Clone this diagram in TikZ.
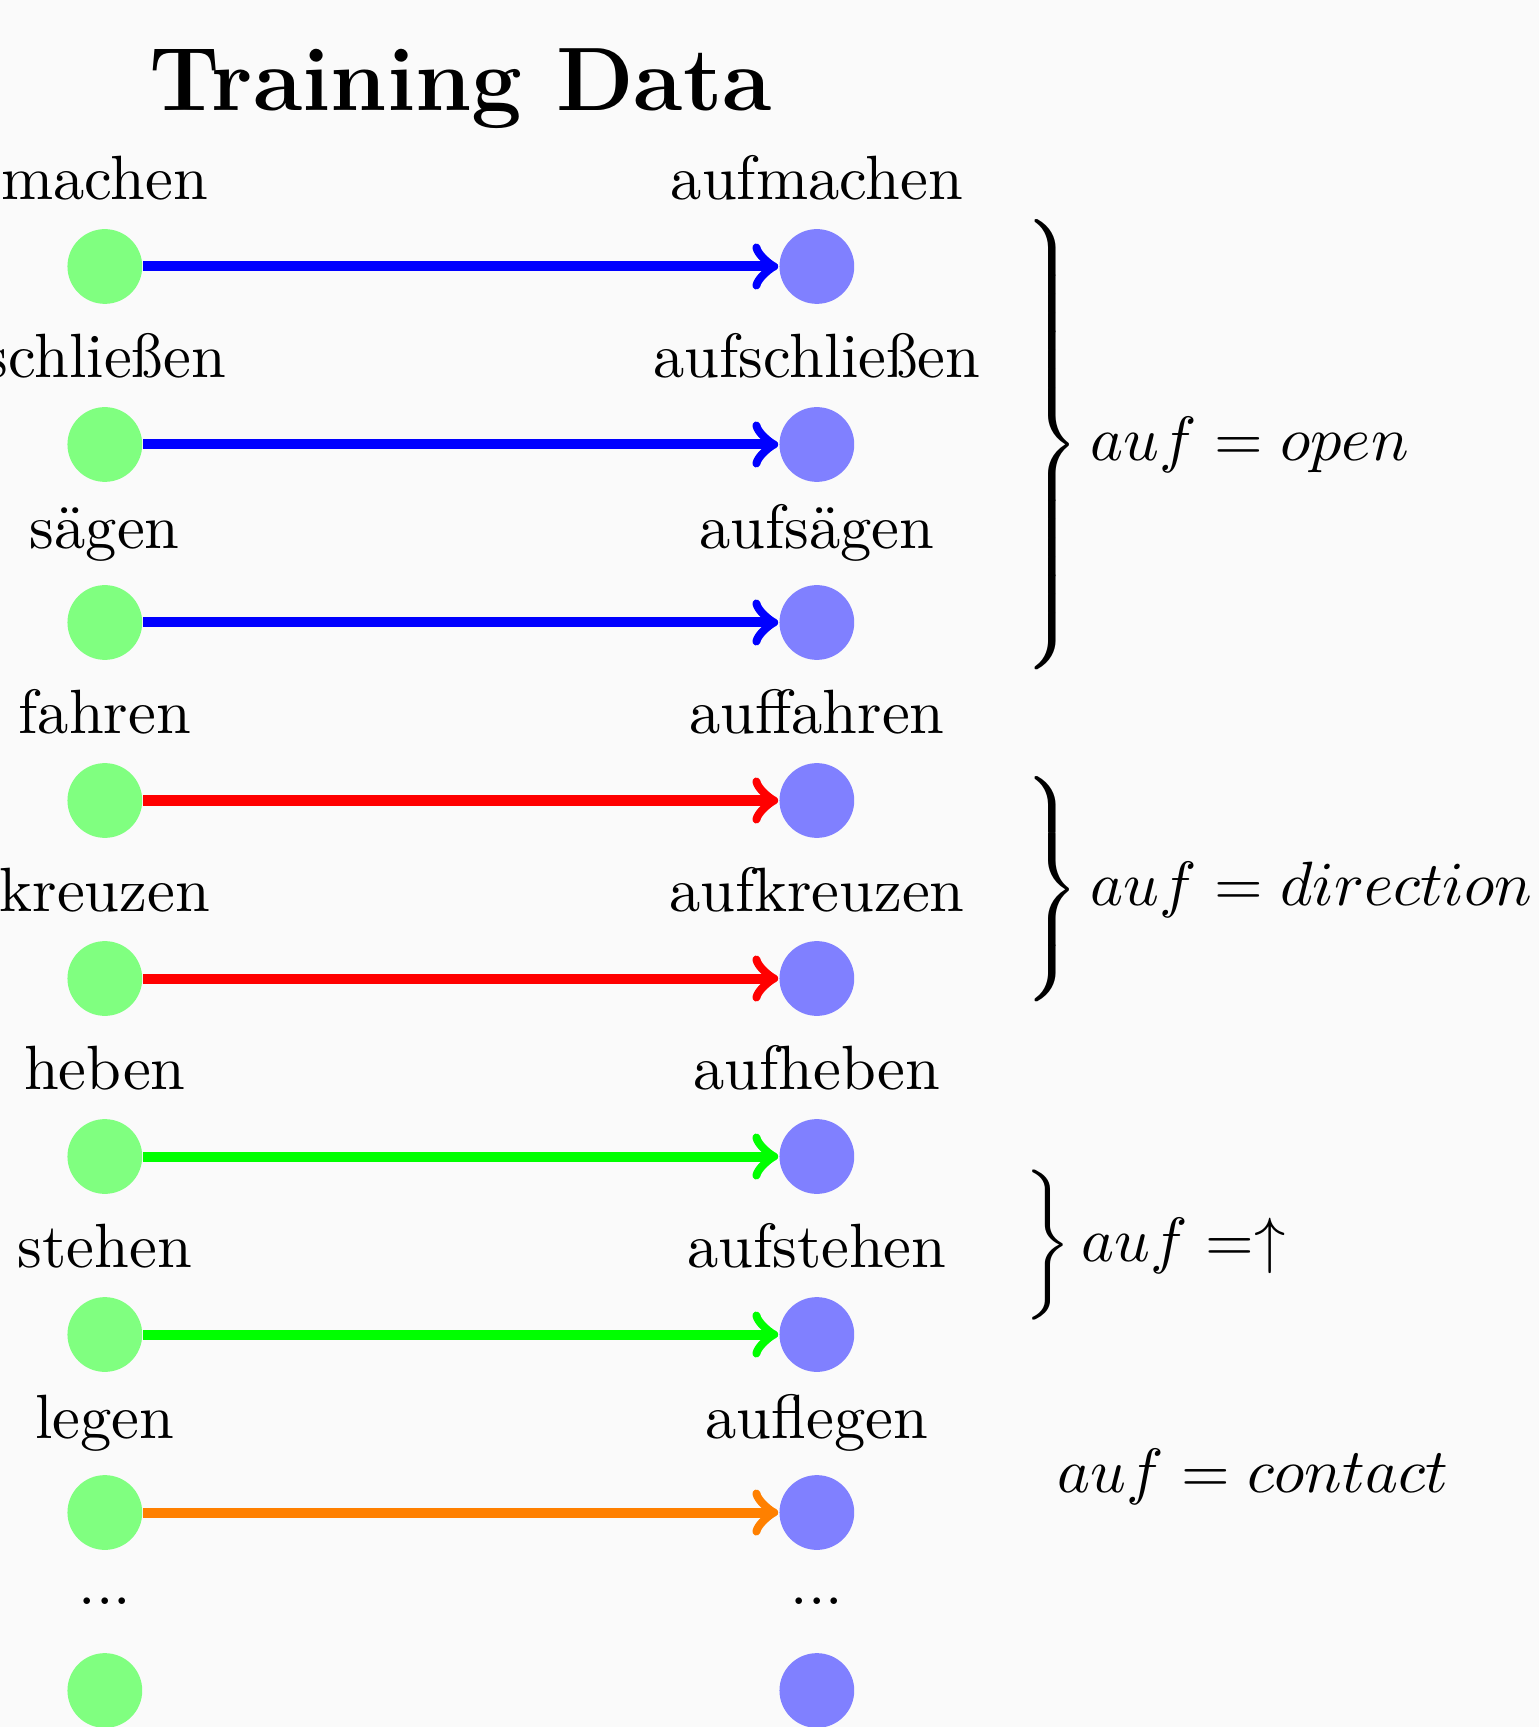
\documentclass[tikz,border=0pt]{standalone}
\usepackage{fontspec}
\usepackage{amsmath}
\usetikzlibrary{positioning}
\definecolor{bgcol}{RGB}{250,250,250}

\begin{document}
\begin{tikzpicture}[
  node distance=1cm and 4cm, on grid,
  verb/.style={circle, fill=green!50, minimum size=0.42cm, inner sep=0pt,
               label distance=0.6pt},
  aufverb/.style={verb, fill=blue!50},
  every label/.style={execute at begin node={\rule[-1pt]{0pt}{1pt}}},
  arr/.style={->, ultra thick},
  meaning/.style={anchor=west},
]
% Background
\useasboundingbox (-0.589,1.497) rectangle (8.057,-8.205);
\fill[bgcol] (-0.589,1.497) rectangle (8.057,-8.205);

% Title
\node[font=\Large\bfseries] (title) at (2,1) {Training Data};

% Base verbs
\node[verb, label=above:machen] (v1) at (0,0) {};
\node[verb, label=above:schließen, below=of v1] (v2) {};
\node[verb, label=above:sägen, below=of v2] (v3) {};
\node[verb, label=above:fahren, below=of v3] (v4) {};
\node[verb, label=above:kreuzen, below=of v4] (v5) {};
\node[verb, label=above:heben, below=of v5] (v6) {};
\node[verb, label=above:stehen, below=of v6] (v7) {};
\node[verb, label=above:legen, below=of v7] (v8) {};
\node[below=0.5cm of v8] (vdots) {...};
\node[verb, below=of v8] (v9) {};

% auf- verbs
\node[aufverb, label=above:aufmachen, right=of v1] (a1) {};
\node[aufverb, label=above:aufschließen, right=of v2] (a2) {};
\node[aufverb, label=above:aufsägen, right=of v3] (a3) {};
\node[aufverb, label=above:auffahren, right=of v4] (a4) {};
\node[aufverb, label=above:aufkreuzen, right=of v5] (a5) {};
\node[aufverb, label=above:aufheben, right=of v6] (a6) {};
\node[aufverb, label=above:aufstehen, right=of v7] (a7) {};
\node[aufverb, label=above:auflegen, right=of v8] (a8) {};
\node[below=0.5cm of a8] (adots) {...};
\node[aufverb, right=of v9] (a9) {};

% Arrows
\draw[arr, blue] (v1) -- (a1);
\draw[arr, blue] (v2) -- (a2);
\draw[arr, blue] (v3) -- (a3);
\draw[arr, red] (v4) -- (a4);
\draw[arr, red] (v5) -- (a5);
\draw[arr, green] (v6) -- (a6);
\draw[arr, green] (v7) -- (a7);
\draw[arr, orange] (v8) -- (a8);

% Meanings
\node[meaning] (open) at (5.0,-1)
  {$\left.\vcenter{\hbox{\rule{0pt}{75pt}}}\right\} auf = open$};
\node[meaning] (direction) at (5.0,-3.5)
  {$\left.\vcenter{\hbox{\rule{0pt}{38pt}}}\right\} auf = direction$};
\node[meaning] (up) at (5.0,-5.5)
  {$\left.\vcenter{\hbox{\rule{0pt}{24pt}}}\right\} auf =\uparrow$};
\node[meaning] (contact) at (5.23,-6.8) {$auf = contact$};

\end{tikzpicture}
\end{document}
